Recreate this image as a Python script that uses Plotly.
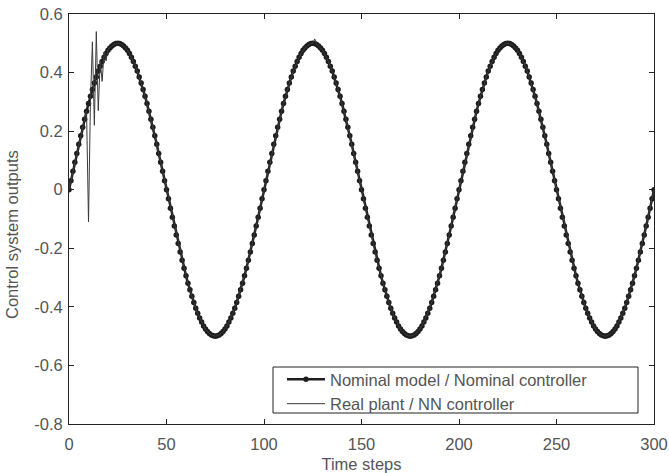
import plotly.graph_objects as go

time_steps = list(range(0, 301))

nominal = [
 0.000,0.031,0.063,0.094,0.124,0.155,0.184,0.213,0.241,0.268,0.294,0.319,0.342,0.364,0.385,0.405,0.422,0.438,0.452,0.465,0.476,0.484,0.491,0.496,0.499,
 0.500,0.499,0.496,0.491,0.484,0.476,0.465,0.452,0.438,0.422,0.405,0.385,0.364,0.342,0.319,0.294,0.268,0.241,0.213,0.184,0.155,0.124,0.094,0.063,0.031,
 0.000,-0.031,-0.063,-0.094,-0.124,-0.155,-0.184,-0.213,-0.241,-0.268,-0.294,-0.319,-0.342,-0.364,-0.385,-0.405,-0.422,-0.438,-0.452,-0.465,-0.476,-0.484,-0.491,-0.496,-0.499,
 -0.500,-0.499,-0.496,-0.491,-0.484,-0.476,-0.465,-0.452,-0.438,-0.422,-0.405,-0.385,-0.364,-0.342,-0.319,-0.294,-0.268,-0.241,-0.213,-0.184,-0.155,-0.124,-0.094,-0.063,-0.031,
 0.000,0.031,0.063,0.094,0.124,0.155,0.184,0.213,0.241,0.268,0.294,0.319,0.342,0.364,0.385,0.405,0.422,0.438,0.452,0.465,0.476,0.484,0.491,0.496,0.499,
 0.500,0.499,0.496,0.491,0.484,0.476,0.465,0.452,0.438,0.422,0.405,0.385,0.364,0.342,0.319,0.294,0.268,0.241,0.213,0.184,0.155,0.124,0.094,0.063,0.031,
 0.000,-0.031,-0.063,-0.094,-0.124,-0.155,-0.184,-0.213,-0.241,-0.268,-0.294,-0.319,-0.342,-0.364,-0.385,-0.405,-0.422,-0.438,-0.452,-0.465,-0.476,-0.484,-0.491,-0.496,-0.499,
 -0.500,-0.499,-0.496,-0.491,-0.484,-0.476,-0.465,-0.452,-0.438,-0.422,-0.405,-0.385,-0.364,-0.342,-0.319,-0.294,-0.268,-0.241,-0.213,-0.184,-0.155,-0.124,-0.094,-0.063,-0.031,
 0.000,0.031,0.063,0.094,0.124,0.155,0.184,0.213,0.241,0.268,0.294,0.319,0.342,0.364,0.385,0.405,0.422,0.438,0.452,0.465,0.476,0.484,0.491,0.496,0.499,
 0.500,0.499,0.496,0.491,0.484,0.476,0.465,0.452,0.438,0.422,0.405,0.385,0.364,0.342,0.319,0.294,0.268,0.241,0.213,0.184,0.155,0.124,0.094,0.063,0.031,
 0.000,-0.031,-0.063,-0.094,-0.124,-0.155,-0.184,-0.213,-0.241,-0.268,-0.294,-0.319,-0.342,-0.364,-0.385,-0.405,-0.422,-0.438,-0.452,-0.465,-0.476,-0.484,-0.491,-0.496,-0.499,
 -0.500,-0.499,-0.496,-0.491,-0.484,-0.476,-0.465,-0.452,-0.438,-0.422,-0.405,-0.385,-0.364,-0.342,-0.319,-0.294,-0.268,-0.241,-0.213,-0.184,-0.155,-0.124,-0.094,-0.063,-0.031,
 0.000,
]

real_plant = [
 0.000,0.031,0.063,0.094,0.124,0.155,0.184,0.213,0.241,0.270,-0.110,0.300,0.505,0.220,0.540,0.270,0.440,0.370,0.470,0.440,0.480,0.484,0.491,0.496,0.499,
 0.500,0.499,0.496,0.491,0.484,0.476,0.465,0.452,0.438,0.422,0.405,0.385,0.364,0.342,0.319,0.294,0.268,0.241,0.213,0.184,0.155,0.124,0.094,0.063,0.031,
 0.000,-0.031,-0.063,-0.094,-0.124,-0.155,-0.184,-0.213,-0.241,-0.268,-0.294,-0.319,-0.342,-0.364,-0.385,-0.405,-0.422,-0.438,-0.452,-0.465,-0.476,-0.484,-0.491,-0.496,-0.499,
 -0.500,-0.499,-0.496,-0.491,-0.484,-0.476,-0.465,-0.452,-0.438,-0.422,-0.405,-0.385,-0.364,-0.342,-0.319,-0.294,-0.268,-0.241,-0.213,-0.184,-0.155,-0.124,-0.094,-0.063,-0.031,
 0.000,0.031,0.063,0.094,0.124,0.155,0.184,0.213,0.241,0.268,0.294,0.319,0.342,0.364,0.385,0.405,0.422,0.438,0.452,0.465,0.476,0.484,0.491,0.496,0.499,
 0.500,0.515,0.496,0.491,0.484,0.476,0.465,0.452,0.438,0.422,0.405,0.385,0.364,0.342,0.319,0.294,0.268,0.241,0.213,0.184,0.155,0.124,0.094,0.063,0.031,
 0.000,-0.031,-0.063,-0.094,-0.124,-0.155,-0.184,-0.213,-0.241,-0.268,-0.294,-0.319,-0.342,-0.364,-0.385,-0.405,-0.422,-0.438,-0.452,-0.465,-0.476,-0.484,-0.491,-0.496,-0.499,
 -0.500,-0.499,-0.496,-0.491,-0.484,-0.476,-0.465,-0.452,-0.438,-0.422,-0.405,-0.385,-0.364,-0.342,-0.319,-0.294,-0.268,-0.241,-0.213,-0.184,-0.155,-0.124,-0.094,-0.063,-0.031,
 0.000,0.031,0.063,0.094,0.124,0.155,0.184,0.213,0.241,0.268,0.294,0.319,0.342,0.364,0.385,0.405,0.422,0.438,0.452,0.465,0.476,0.484,0.491,0.496,0.499,
 0.500,0.499,0.496,0.491,0.484,0.476,0.465,0.452,0.438,0.422,0.405,0.385,0.364,0.342,0.319,0.294,0.268,0.241,0.213,0.184,0.155,0.124,0.094,0.063,0.031,
 0.000,-0.031,-0.063,-0.094,-0.124,-0.155,-0.184,-0.213,-0.241,-0.268,-0.294,-0.319,-0.342,-0.364,-0.385,-0.405,-0.422,-0.438,-0.452,-0.465,-0.476,-0.484,-0.491,-0.496,-0.499,
 -0.500,-0.499,-0.496,-0.491,-0.484,-0.476,-0.465,-0.452,-0.438,-0.422,-0.405,-0.385,-0.364,-0.342,-0.319,-0.294,-0.268,-0.241,-0.213,-0.184,-0.155,-0.124,-0.094,-0.063,-0.031,
 0.000,
]

x_ticks = [0, 50, 100, 150, 200, 250, 300]
x_tick_labels = ["0", "50", "100", "150", "200", "250", "300"]
y_ticks = [0.6, 0.4, 0.2, 0.0, -0.2, -0.4, -0.6, -0.8]
y_tick_labels = ["0.6", "0.4", "0.2", "0", "-0.2", "-0.4", "-0.6", "-0.8"]

FONT = "Liberation Sans, Arial, sans-serif"
TEXT = "#555555"
FS = 16.5

# plot area in pixels
L, R, T, B = 69, 654, 14, 424
PW, PH = R - L, B - T


def px_x(p):
    return (p - L) / PW


def px_y(p):
    return (B - p) / PH


fig = go.Figure()
fig.add_trace(go.Scatter(
    x=time_steps, y=nominal, mode="lines+markers",
    name="Nominal model / Nominal controller",
    line=dict(color="#1e1e1e", width=2.5),
    marker=dict(color="#1e1e1e", size=5.5, symbol="circle"),
))
fig.add_trace(go.Scatter(
    x=time_steps, y=real_plant, mode="lines",
    name="Real plant / NN controller",
    line=dict(color="#3a3a3a", width=1),
))

axis_common = dict(
    showgrid=False, zeroline=False, showline=True, linecolor="#222222", linewidth=1,
    mirror="ticks", ticks="inside", ticklen=5, tickcolor="#222222",
    tickfont=dict(family=FONT, size=FS, color=TEXT), automargin=False,
    ticklabeloverflow="allow",
)
fig.update_xaxes(range=[0, 300], tickvals=x_ticks, ticktext=x_tick_labels,
                 ticklabelstandoff=5,
                 title=dict(text="Time steps", font=dict(family=FONT, size=FS, color=TEXT), standoff=10),
                 **axis_common)
fig.update_yaxes(range=[-0.8, 0.6], tickvals=y_ticks, ticktext=y_tick_labels,
                 ticklabelstandoff=2,
                 **axis_common)

fig.add_annotation(
    text="Control system outputs", textangle=-90,
    xref="paper", yref="paper", x=px_x(12), y=px_y(235),
    xanchor="center", yanchor="middle", showarrow=False,
    font=dict(family=FONT, size=FS, color=TEXT),
)

# legend frame
fig.add_shape(type="rect", xref="paper", yref="paper",
              x0=px_x(273), x1=px_x(638), y0=px_y(413), y1=px_y(367),
              fillcolor="white", line=dict(color="#222222", width=1), layer="above")

fig.update_layout(
    width=669, height=473,
    margin=dict(l=L, r=669 - R, t=T, b=473 - B),
    paper_bgcolor="white", plot_bgcolor="white",
    font=dict(family=FONT, size=FS, color=TEXT),
    showlegend=True,
    legend=dict(x=px_x(282), y=px_y(362), xanchor="left", yanchor="top",
                bgcolor="rgba(0,0,0,0)", borderwidth=0,
                font=dict(family=FONT, size=FS, color=TEXT),
                tracegroupgap=0, itemwidth=38),
)

fig.write_html("out.html")
